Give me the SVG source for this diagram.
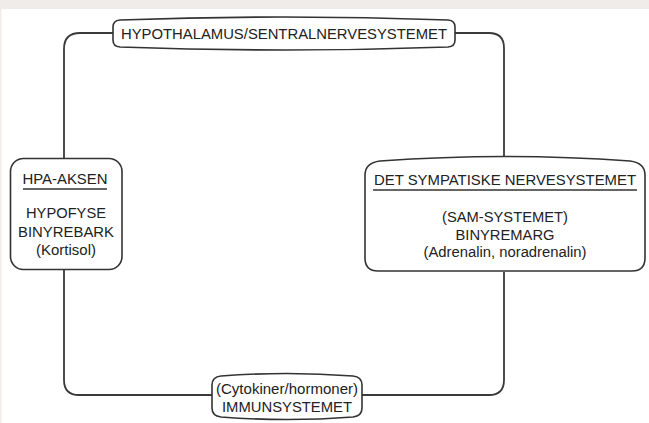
<svg xmlns="http://www.w3.org/2000/svg" width="649" height="423" viewBox="0 0 649 423">
<style>
.bg{fill:#ffffff}
.band{fill:#efecea}
.node{fill:#ffffff;stroke:#333333;stroke-width:1.6}
.conn{fill:none;stroke:#3a3a3a;stroke-width:1.8}
.t{font-family:"Liberation Sans",Arial,sans-serif;font-size:15.5px;fill:#222222;text-anchor:middle}
.ul{stroke:#333333;stroke-width:1.5}
</style>
<rect class="bg" x="0" y="0" width="649" height="423"/>
<rect class="band" x="0" y="0" width="649" height="9"/>
<rect class="band" x="0" y="0" width="1.5" height="423"/>
<g id="connectors">
<path class="conn" d="M113,33 H80 Q64,33 64,49 V158"/>
<path class="conn" d="M455,33 H489 Q504,33 504,48 V157"/>
<path class="conn" d="M64,270 V380 Q64,395 79,395 H213"/>
<path class="conn" d="M504,272 V380 Q504,395 489,395 H362"/>
</g>
<g id="hypothalamus">
<path class="node" d="M120,20 Q284,14 448,20 Q455,20.5 455,27 L455,40 Q455,46.5 448,47 Q284,53 120,47 Q113,46.5 113,40 L113,27 Q113,20.5 120,20 Z"/>
<text class="t" x="284" y="39" textLength="326" lengthAdjust="spacingAndGlyphs">HYPOTHALAMUS/SENTRALNERVESYSTEMET</text>
</g>
<g id="hpa">
<rect class="node" x="10.5" y="158.5" width="111.5" height="111" rx="13"/>
<text class="t" x="65" y="184" textLength="85" lengthAdjust="spacingAndGlyphs">HPA-AKSEN</text>
<line class="ul" x1="23" y1="189" x2="107" y2="189"/>
<text class="t" x="66" y="218" textLength="80" lengthAdjust="spacingAndGlyphs">HYPOFYSE</text>
<text class="t" x="66" y="237" textLength="96" lengthAdjust="spacingAndGlyphs">BINYREBARK</text>
<text class="t" x="66" y="255" textLength="60" lengthAdjust="spacingAndGlyphs">(Kortisol)</text>
</g>
<g id="sympatiske">
<path class="node" d="M365,175 Q365,163 380,161 Q505,152 630,161 Q645,163 645,175 L645,258 Q645,271 632,271 L378,271 Q365,271 365,258 Z"/>
<text class="t" x="505" y="185" textLength="262" lengthAdjust="spacingAndGlyphs">DET SYMPATISKE NERVESYSTEMET</text>
<line class="ul" x1="373" y1="190" x2="637" y2="190"/>
<text class="t" x="505" y="222" textLength="126" lengthAdjust="spacingAndGlyphs">(SAM-SYSTEMET)</text>
<text class="t" x="505" y="240" textLength="99" lengthAdjust="spacingAndGlyphs">BINYREMARG</text>
<text class="t" x="505" y="257" textLength="163" lengthAdjust="spacingAndGlyphs">(Adrenalin, noradrenalin)</text>
</g>
<g id="immunsystemet">
<path class="node" d="M221,376 Q287,371 353,376 Q362,377 362,385 L362,408 Q362,416 353,417 Q287,422 221,417 Q212,416 212,408 L212,385 Q212,377 221,376 Z"/>
<text class="t" x="287" y="394" textLength="142" lengthAdjust="spacingAndGlyphs">(Cytokiner/hormoner)</text>
<text class="t" x="287" y="412" textLength="130" lengthAdjust="spacingAndGlyphs">IMMUNSYSTEMET</text>
</g>
</svg>
